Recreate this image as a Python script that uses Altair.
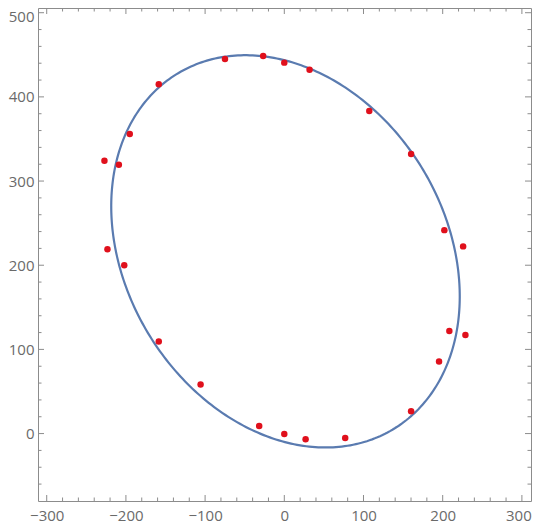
import numpy as np
import pandas as pd
import altair as alt

pt_x = [-227.1, -208.9, -195.1, -158.5, -74.9, -26.7, 0.0, 31.9, 107.3, 160.1,
        202.1, 225.8, 208.4, 228.7, 195.4, 160.1, 76.9, 26.9, 0.0, -31.7,
        -105.7, -158.5, -202.1, -223.3]
pt_y = [324.1, 319.4, 355.9, 415.0, 445.1, 448.7, 440.7, 432.3, 383.2, 332.1,
        241.7, 222.4, 122.0, 117.2, 85.6, 26.5, -5.2, -6.8, -0.5, 9.0,
        58.3, 109.4, 200.1, 219.1]

# Fitted ellipse (center, semi-axes, rotation of major axis)
ell_center = [1.5, 216.5]
ell_axes = [252.0, 198.0]
ell_angle_deg = 128.0

# Axis ticks
x_major = [-300, -200, -100, 0, 100, 200, 300]
y_major = [0, 100, 200, 300, 400, 500]
x_minor = [v for v in range(-300, 301, 20) if v % 100 != 0]
y_minor = [v for v in range(-60, 501, 20) if v % 100 != 0]

x_domain = [-311, 311.5]
y_domain = [-80.1, 505.6]

W, H = 493, 493

phi = np.deg2rad(ell_angle_deg)
t = np.linspace(0, 2 * np.pi, 361)
a, b = ell_axes
ex = ell_center[0] + a * np.cos(phi) * np.cos(t) - b * np.sin(phi) * np.sin(t)
ey = ell_center[1] + a * np.sin(phi) * np.cos(t) + b * np.cos(phi) * np.sin(t)
ell_df = pd.DataFrame({"x": ex, "y": ey, "i": np.arange(len(t))})
pts_df = pd.DataFrame({"x": pt_x, "y": pt_y})

xs = alt.Scale(domain=x_domain, nice=False, zero=False)
ys = alt.Scale(domain=y_domain, nice=False, zero=False)

frame_col = "#8c8c8c"

ellipse = alt.Chart(ell_df).mark_line(color="#5A7BB0", strokeWidth=2.2, clip=True).encode(
    x=alt.X("x:Q", scale=xs, title=None,
            axis=alt.Axis(values=x_major, labelPadding=7, labelFlush=False,
                          labelOffset={"condition": {"test": "datum.value == 300", "value": -3.5},
                                       "value": 0})),
    y=alt.Y("y:Q", scale=ys, title=None,
            axis=alt.Axis(values=y_major, labelPadding=4, labelFlush=False,
                          labelOffset={"condition": {"test": "datum.value == 500", "value": 4},
                                       "value": 0})),
    order="i:Q",
)

points = alt.Chart(pts_df).mark_circle(color="#e0101c", size=42, opacity=1).encode(
    x=alt.X("x:Q", scale=xs),
    y=alt.Y("y:Q", scale=ys),
)

def xticks(vals, length):
    df = pd.DataFrame({"v": vals})
    bot = alt.Chart(df).mark_rule(color=frame_col, strokeWidth=1).encode(
        x=alt.X("v:Q", scale=xs), y=alt.value(H), y2=alt.value(H - length))
    top = alt.Chart(df).mark_rule(color=frame_col, strokeWidth=1).encode(
        x=alt.X("v:Q", scale=xs), y=alt.value(0), y2=alt.value(length))
    return [bot, top]

def yticks(vals, length):
    df = pd.DataFrame({"v": vals})
    left = alt.Chart(df).mark_rule(color=frame_col, strokeWidth=1).encode(
        y=alt.Y("v:Q", scale=ys), x=alt.value(0), x2=alt.value(length))
    right = alt.Chart(df).mark_rule(color=frame_col, strokeWidth=1).encode(
        y=alt.Y("v:Q", scale=ys), x=alt.value(W), x2=alt.value(W - length))
    return [left, right]

layers = [ellipse] + xticks(x_major, 6) + xticks(x_minor, 3.5) + yticks(y_major, 6) + yticks(y_minor, 3.5) + [points]

chart = alt.layer(*layers).properties(
    width=W, height=H,
    autosize=alt.AutoSizeParams(type="none"),
    padding={"left": 30, "top": 0, "right": 1, "bottom": 30},
).configure_view(
    stroke=frame_col, strokeWidth=1
).configure_axis(
    domain=False, ticks=False, grid=False, title=None,
    labelFont="Open Sans", labelFontSize=15, labelColor="#6a6a6a",
)

chart.save("out.html", embed_options={"renderer": "svg", "actions": False})
